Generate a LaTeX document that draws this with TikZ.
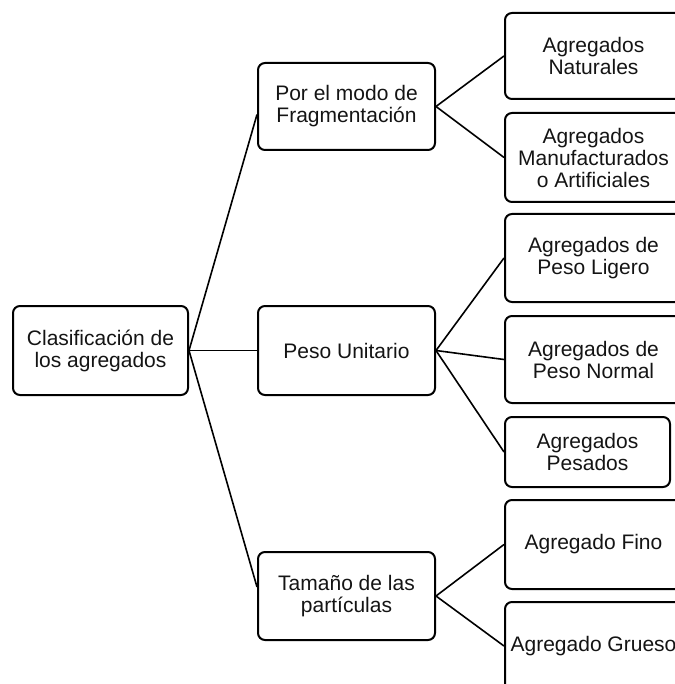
\documentclass[tikz,border=0pt]{standalone}
\usepackage{fontspec}
\setmainfont{Liberation Sans}
\definecolor{textogris}{gray}{0.08}
\tikzset{
  caja/.style={draw=black, line width=2pt, rounded corners=7pt, align=center,
    minimum width=177pt, minimum height=88pt, inner sep=2pt,
    font=\fontsize{21}{22}\selectfont, text=textogris},
  enlace/.style={line width=1.6pt},
}
\begin{document}
\begin{tikzpicture}[x=1pt, y=-1pt]
	\useasboundingbox (0,0) rectangle (674,684);
	% Nivel 1
	\node[caja, minimum width=175pt, minimum height=89pt] (clasif) at (100.5,350.5) {Clasificación de\\los agregados};
	% Nivel 2
	\node[caja, minimum height=87pt] (modo) at (346.5,106.5) {Por el modo de\\Fragmentación};
	\node[caja, minimum height=89pt] (peso) at (346.5,350.5) {Peso Unitario};
	\node[caja] (tam) at (346.5,596) {Tamaño de las\\partículas};
	% Nivel 3
	\node[caja, minimum height=86pt] (nat) at (593.5,56) {Agregados\\Naturales};
	\node[caja, minimum height=89pt] (manu) at (593.5,157.5) {Agregados\\Manufacturados\\o Artificiales};
	\node[caja] (lig) at (593.5,258) {Agregados de\\Peso Ligero};
	\node[caja, minimum height=87pt] (norm) at (593.5,359.5) {Agregados de\\Peso Normal};
	\node[caja, minimum width=165pt, minimum height=70pt] (pesad) at (587.5,452) {Agregados\\Pesados};
	\node[caja, minimum height=89pt] (fino) at (593.5,544.5) {Agregado Fino};
	\node[caja] (grue) at (593.5,646) {Agregado Grueso};

	% Conectores
	\draw[enlace] (clasif.east) -- ([yshift=-8pt]modo.west);
	\draw[enlace] (clasif.east) -- (peso.west);
	\draw[enlace] (clasif.east) -- ([yshift=9pt]tam.west);
	\foreach \hijo in {nat,manu} {
		\draw[enlace] (modo.east) -- (\hijo.west);
	}
	\foreach \hijo in {lig,norm,pesad} {
		\draw[enlace] (peso.east) -- (\hijo.west);
	}
	\foreach \hijo in {fino,grue} {
		\draw[enlace] (tam.east) -- (\hijo.west);
	}
\end{tikzpicture}
\end{document}
